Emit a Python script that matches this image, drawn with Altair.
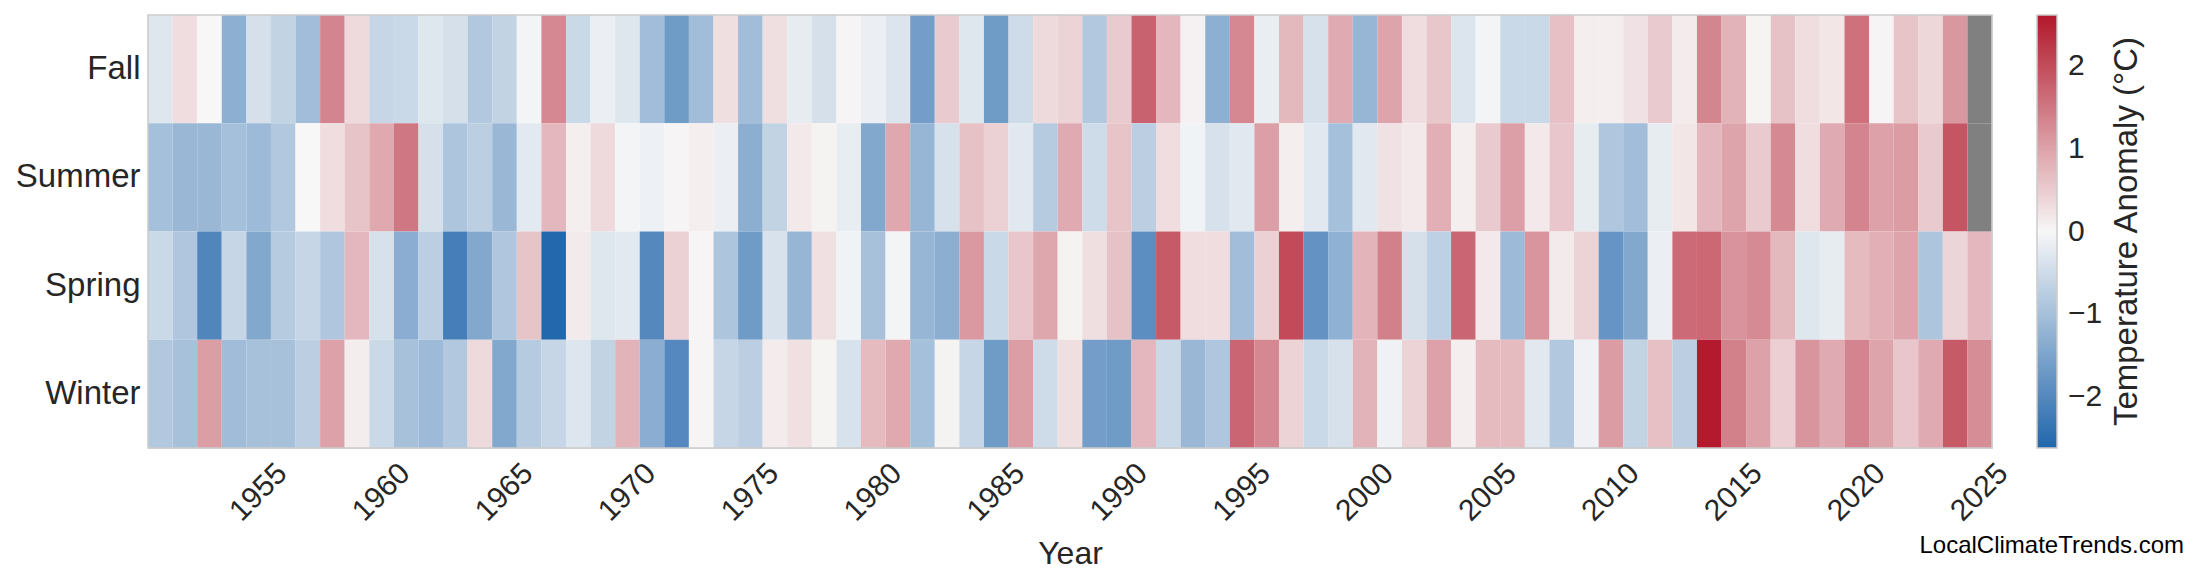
import altair as alt
import pandas as pd

# seasonal temperature anomalies (deg C), 1951-2025
years = list(range(1951, 2026))
seasons = ["Fall", "Summer", "Spring", "Winter"]

fall = [-0.3, 0.3, 0.0, -1.3, -0.42, -0.65, -1.05, 1.35, 0.35, -0.6, -0.55, -0.3, -0.42, -0.85, -0.65, -0.05, 1.3, -0.55, -0.15,
        -0.3, -1.05, -1.66, -1.05, 0.28, -1.05, 0.28, -0.2, -0.42, 0.03, -0.15, -0.33, -1.6, 0.52, -0.3, -1.66, -0.5, 0.35, 0.42,
        -0.85, 0.52, 1.75, 0.75, 0.07, -1.3, 1.3, -0.17, 0.73, -0.4, 0.9, -1.18, 0.97, 0.3, 0.56, -0.33, -0.05, -0.55, -0.55,
        0.65, 0.1, 0.1, 0.25, 0.52, 0.14, 1.33, 0.8, 0.05, 0.63, 0.3, 0.2, 1.57, 0.04, 0.6, 0.38, 1.13, None]
summer = [-1.0, -1.14, -1.14, -1.0, -1.1, -0.85, 0.0, 0.3, 0.6, 0.92, 1.5, -0.42, -0.9, -0.72, -1.14, -0.25, 0.75, 0.1, 0.35,
          -0.05, -0.12, 0.03, 0.1, -0.15, -1.32, -0.65, 0.16, 0.06, -0.18, -1.42, 0.93, -1.18, -0.4, 0.63, 0.45, -0.27, -0.8, 0.9,
          -0.5, 0.6, -0.72, 0.3, -0.08, -0.4, -0.27, 1.03, 0.1, -0.27, -1.0, -0.27, 0.25, 0.16, 0.85, 0.1, 0.52, 1.03, 0.16,
          0.57, -0.2, -0.88, -1.05, -0.2, 0.2, 0.75, 0.98, 0.52, 1.28, 0.3, 0.9, 1.35, 1.0, 1.07, 0.52, 1.9, None]
spring = [-0.55, -0.88, -2.05, -0.6, -1.43, -0.8, -0.6, -0.88, 0.75, -0.4, -1.33, -0.74, -2.18, -1.43, -0.88, 0.6, -2.6, 0.15, -0.3,
          -0.25, -1.98, 0.45, 0.03, -0.9, -1.66, -0.38, -1.18, 0.27, -0.08, -0.97, -0.05, -1.18, -1.32, 1.1, -0.55, 0.57, 0.95, 0.06,
          0.28, 0.63, -1.9, 1.85, 0.3, 0.3, -1.05, 0.45, 2.03, -1.8, -1.27, 0.77, 1.4, -0.42, -0.7, 1.7, 0.16, -1.1, 1.15,
          0.15, 0.42, -1.78, -1.42, -0.15, 1.65, 1.68, 1.17, 1.27, 0.73, -0.3, -0.2, 0.7, 0.85, 0.98, -0.9, 0.4, 0.75]
winter = [-0.85, -0.97, 1.05, -1.07, -0.97, -0.97, -0.74, 1.0, 0.12, -0.55, -0.97, -1.1, -0.85, 0.35, -1.43, -0.8, -0.6, -0.32, -0.65,
          0.8, -1.33, -2.0, 0.03, -0.6, -0.72, 0.14, 0.27, 0.05, -0.38, 0.7, 0.92, -1.0, 0.06, -0.6, -1.66, 1.05, -0.5, 0.28,
          -1.6, -1.66, 0.75, -0.55, -1.14, -0.88, 1.7, 1.3, 0.42, -0.55, -0.4, 0.8, -0.1, 0.42, 1.0, 0.1, 0.7, 0.7, -0.27,
          -0.85, -0.1, 1.07, -0.65, 0.65, -0.74, 2.6, 1.4, 1.0, 0.47, 1.15, 0.9, 1.35, 0.97, 0.57, 0.9, 1.85, 1.25]

year_ticks = [1955, 1960, 1965, 1970, 1975, 1980, 1985, 1990, 1995, 2000, 2005, 2010, 2015, 2020, 2025]
bar_ticks = [-2, -1, 0, 1, 2]
bar_title = "Temperature Anomaly (°C)"
credit = "LocalClimateTrends.com"

FONT = "Liberation Sans"
INK = "#262626"
W, H = 1844, 433

rows = []
for name, vals in zip(seasons, [fall, summer, spring, winter]):
    for y, v in zip(years, vals):
        rows.append({"Year": y, "Season": name, "anomaly": v})
df = pd.DataFrame(rows)

x_enc = alt.X("Year:O", scale=alt.Scale(paddingInner=0, paddingOuter=0),
              axis=alt.Axis(values=year_ticks, labelAngle=-45, labelAlign="center",
                            labelBaseline="middle", labelPadding=44, ticks=False, tickSize=0,
                            domain=False, labelFontSize=30, labelColor=INK, labelFont=FONT,
                            title="Year", titleFontSize=32, titleFont=FONT, titleColor=INK,
                            titleFontWeight="normal", titleBaseline="alphabetic", titleY=115))
y_enc = alt.Y("Season:N", sort=seasons, scale=alt.Scale(paddingInner=0, paddingOuter=0),
              axis=alt.Axis(title=None, ticks=False, domain=False, labelPadding=8,
                            labelFontSize=33, labelColor=INK, labelFont=FONT))

cells = alt.Chart(df).mark_rect(strokeWidth=0.6).transform_filter(
    "isValid(datum.anomaly)"
).encode(
    x=x_enc,
    y=y_enc,
    color=alt.Color("anomaly:Q",
                    scale=alt.Scale(domain=[-2.62, 0, 2.62],
                                    range=["#2166ac", "#f7f7f7", "#b2182b"],
                                    interpolate="rgb"),
                    legend=alt.Legend(title=None, orient="none",
                                      legendX=W + 45, legendY=0, direction="vertical",
                                      gradientLength=H, gradientThickness=20,
                                      gradientStrokeColor="#cccccc", gradientStrokeWidth=1.5,
                                      values=bar_ticks, format="d", labelFontSize=30, labelFont=FONT,
                                      labelColor=INK, labelOffset=11)),
)

missing = alt.Chart(df).mark_rect(color="#808080").transform_filter(
    "!isValid(datum.anomaly)"
).encode(x=x_enc, y=y_enc)

frame = alt.Chart(alt.Data(values=[{"f": 1}])).mark_rect(
    fillOpacity=0, stroke="#cccccc", strokeWidth=1.6
).encode(x=alt.value(0), x2=alt.value(W), y=alt.value(0), y2=alt.value(H))

bar_label = alt.Chart(alt.Data(values=[{"t": bar_title}])).mark_text(
    angle=270, align="center", baseline="middle", fontSize=33, font=FONT, color=INK
).encode(x=alt.value(1979), y=alt.value(H / 2), text="t:N")

note = alt.Chart(alt.Data(values=[{"t": credit}])).mark_text(
    align="right", baseline="alphabetic", fontSize=24, font=FONT, color="black"
).encode(x=alt.value(2036), y=alt.value(538), text="t:N")

chart = alt.layer(cells, missing, frame, bar_label, note).properties(
    width=W, height=H,
    autosize=alt.AutoSizeParams(type="none"),
    padding={"left": 140, "top": 7, "right": 200, "bottom": 129},
).configure_view(stroke=None).configure(background="white")

chart.save("out.html", embed_options={"renderer": "svg", "actions": False})
